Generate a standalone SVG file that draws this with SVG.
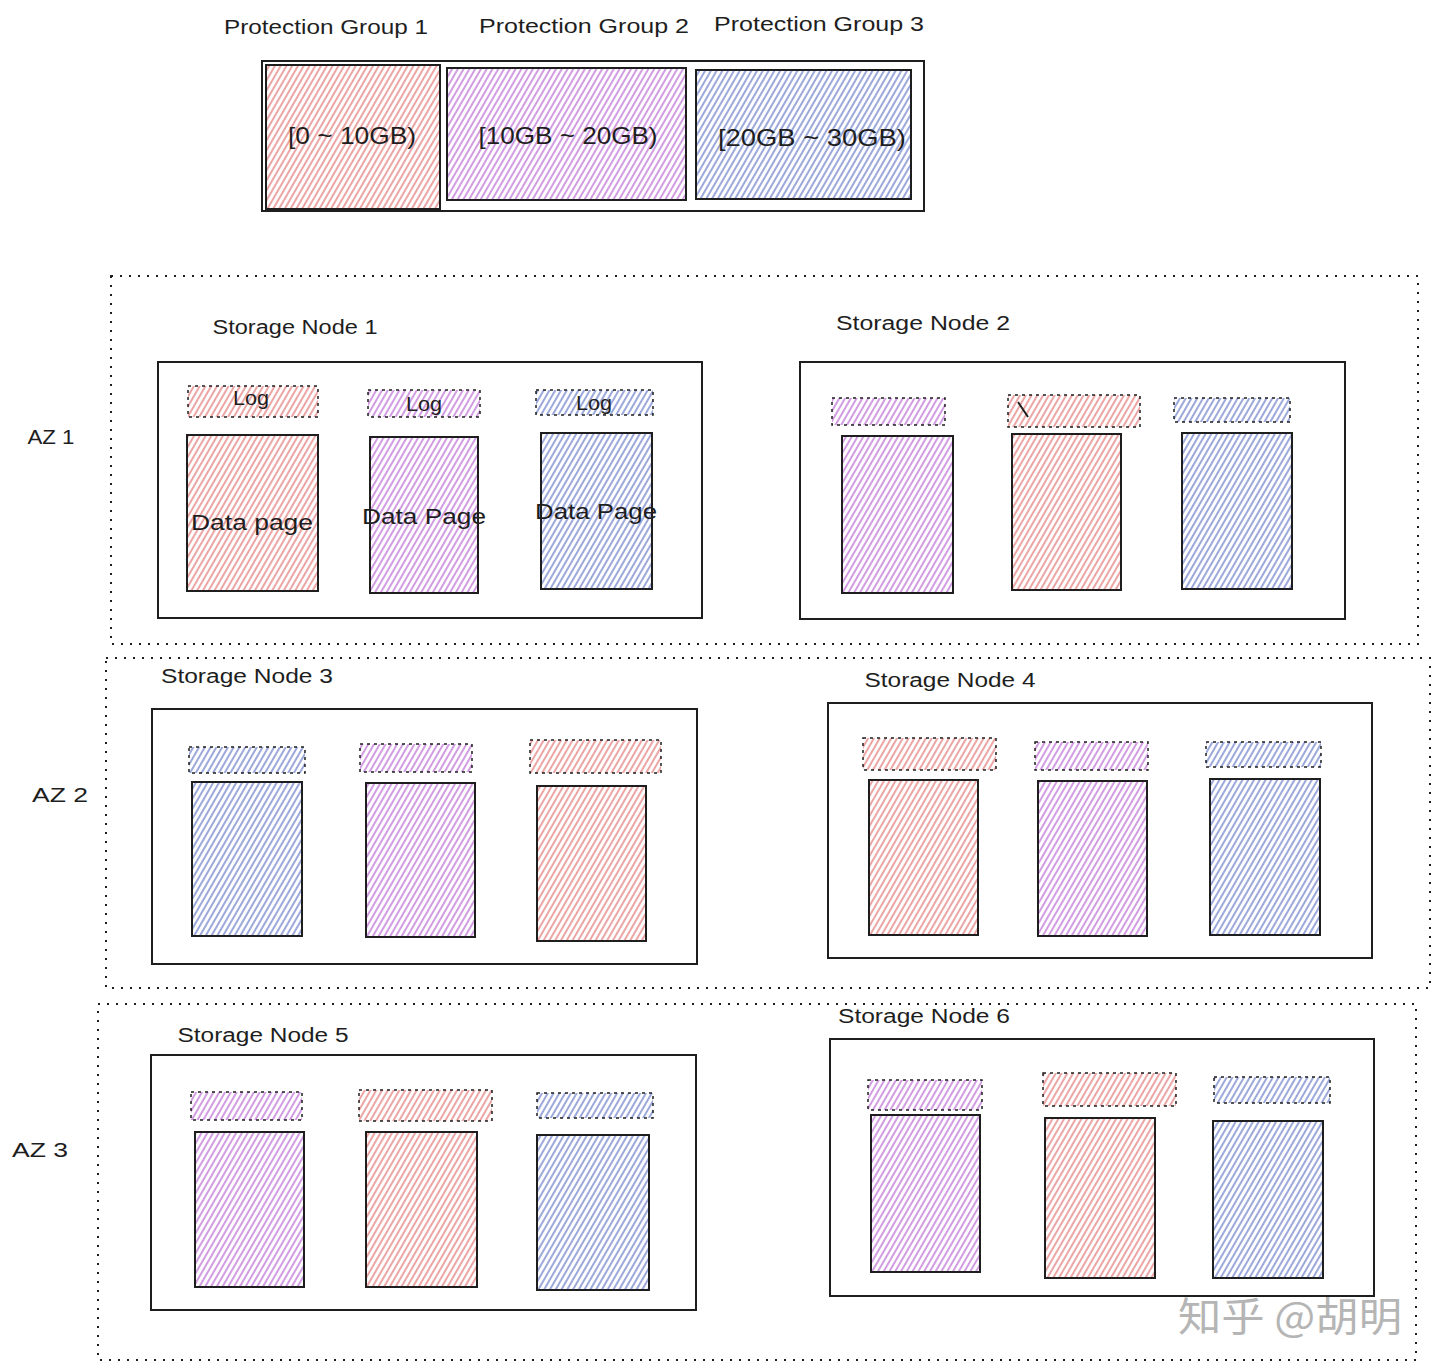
<svg xmlns="http://www.w3.org/2000/svg" width="1440" height="1372" viewBox="0 0 1440 1372">
<style>
  text { font-family: "Liberation Sans", Arial, sans-serif; fill: #1e1e1e; text-anchor: middle; dominant-baseline: central; }
  .lbl { font-size: 20px; }
  .rng { font-size: 24px; }
  .dp { font-size: 22px; }
  .wm { font-family: "Noto Sans CJK SC", "Liberation Sans", sans-serif; font-size: 40px; fill: #b5b5b5; }
  .az { fill: none; stroke: #1e1e1e; stroke-width: 2; stroke-dasharray: 2 7; }
  .box { fill: #ffffff; stroke: #1e1e1e; stroke-width: 2; }
  .dat { stroke: #1e1e1e; stroke-width: 2; }
  .log { stroke: #1e1e1e; stroke-width: 1.5; stroke-dasharray: 3 4; }
  .r { fill: url(#hr); }
  .p { fill: url(#hp); }
  .b { fill: url(#hb); }
</style>
<defs>
  <pattern id="hr" width="5" height="10" patternUnits="userSpaceOnUse" patternTransform="rotate(30)">
    <rect width="5" height="10" fill="#ffffff"/>
    <line x1="1" y1="0" x2="1" y2="10" stroke="#e06a6a" stroke-width="1.2"/>
  </pattern>
  <pattern id="hp" width="5" height="10" patternUnits="userSpaceOnUse" patternTransform="rotate(30)">
    <rect width="5" height="10" fill="#ffffff"/>
    <line x1="1" y1="0" x2="1" y2="10" stroke="#b45bd0" stroke-width="1.2"/>
  </pattern>
  <pattern id="hb" width="5" height="10" patternUnits="userSpaceOnUse" patternTransform="rotate(30)">
    <rect width="5" height="10" fill="#ffffff"/>
    <line x1="1" y1="0" x2="1" y2="10" stroke="#5a6fc4" stroke-width="1.2"/>
  </pattern>
</defs>
<rect width="1440" height="1372" fill="#ffffff"/>

<g id="protection-groups">
  <text class="lbl" x="326" y="27" textLength="204" lengthAdjust="spacingAndGlyphs">Protection Group 1</text>
  <text class="lbl" x="584" y="26" textLength="210" lengthAdjust="spacingAndGlyphs">Protection Group 2</text>
  <text class="lbl" x="819" y="24" textLength="210" lengthAdjust="spacingAndGlyphs">Protection Group 3</text>
  <rect class="box" x="262" y="61" width="662" height="150"/>
  <g id="pg1"><rect class="dat r" x="266" y="65" width="174" height="144"/>
    <text class="rng" x="352" y="135" textLength="128" lengthAdjust="spacingAndGlyphs">[0 ~ 10GB)</text></g>
  <g id="pg2"><rect class="dat p" x="447" y="68" width="239" height="132"/>
    <text class="rng" x="568" y="135" textLength="179" lengthAdjust="spacingAndGlyphs">[10GB ~ 20GB)</text></g>
  <g id="pg3"><rect class="dat b" x="696" y="70" width="215" height="129"/>
    <text class="rng" x="812" y="137" textLength="188" lengthAdjust="spacingAndGlyphs">[20GB ~ 30GB)</text></g>
</g>

<g id="az1">
  <rect class="az" x="111" y="276" width="1307" height="368"/>
  <text class="lbl" x="51" y="437" textLength="47" lengthAdjust="spacingAndGlyphs">AZ 1</text>
</g>
<g id="az2">
  <rect class="az" x="106" y="658" width="1324" height="330"/>
  <text class="lbl" x="60" y="795" textLength="56" lengthAdjust="spacingAndGlyphs">AZ 2</text>
</g>
<g id="az3">
  <rect class="az" x="98" y="1004" width="1318" height="356"/>
  <text class="lbl" x="40" y="1150" textLength="56" lengthAdjust="spacingAndGlyphs">AZ 3</text>
</g>

<g id="storage-node-1">
  <text class="lbl" x="295" y="327" textLength="165" lengthAdjust="spacingAndGlyphs">Storage Node 1</text>
  <rect class="box" x="158" y="362" width="544" height="256"/>
  <rect class="log r" x="188" y="386" width="130" height="31"/>
  <rect class="log p" x="368" y="390" width="112" height="27"/>
  <rect class="log b" x="536" y="390" width="117" height="25"/>
  <rect class="dat r" x="187" y="435" width="131" height="156"/>
  <rect class="dat p" x="370" y="437" width="108" height="156"/>
  <rect class="dat b" x="541" y="433" width="111" height="156"/>
  <text class="lbl" x="251" y="398" textLength="36" lengthAdjust="spacingAndGlyphs">Log</text>
  <text class="lbl" x="424" y="404" textLength="36" lengthAdjust="spacingAndGlyphs">Log</text>
  <text class="lbl" x="594" y="403" textLength="36" lengthAdjust="spacingAndGlyphs">Log</text>
  <text class="dp" x="252" y="522" textLength="122" lengthAdjust="spacingAndGlyphs">Data page</text>
  <text class="dp" x="424" y="516" textLength="124" lengthAdjust="spacingAndGlyphs">Data Page</text>
  <text class="dp" x="596" y="511" textLength="122" lengthAdjust="spacingAndGlyphs">Data Page</text>
</g>

<g id="storage-node-2">
  <text class="lbl" x="923" y="323" textLength="174" lengthAdjust="spacingAndGlyphs">Storage Node 2</text>
  <rect class="box" x="800" y="362" width="545" height="257"/>
  <rect class="log p" x="832" y="398" width="113" height="27"/>
  <rect class="log r" x="1008" y="395" width="132" height="32"/>
  <rect class="log b" x="1174" y="398" width="116" height="24"/>
  <line x1="1018" y1="402" x2="1028" y2="417" stroke="#1e1e1e" stroke-width="2"/>
  <rect class="dat p" x="842" y="436" width="111" height="157"/>
  <rect class="dat r" x="1012" y="434" width="109" height="156"/>
  <rect class="dat b" x="1182" y="433" width="110" height="156"/>
</g>

<g id="storage-node-3">
  <text class="lbl" x="247" y="676" textLength="172" lengthAdjust="spacingAndGlyphs">Storage Node 3</text>
  <rect class="box" x="152" y="709" width="545" height="255"/>
  <rect class="log b" x="189" y="747" width="116" height="26"/>
  <rect class="log p" x="360" y="744" width="112" height="28"/>
  <rect class="log r" x="530" y="740" width="131" height="33"/>
  <rect class="dat b" x="192" y="782" width="110" height="154"/>
  <rect class="dat p" x="366" y="783" width="109" height="154"/>
  <rect class="dat r" x="537" y="786" width="109" height="155"/>
</g>

<g id="storage-node-4">
  <text class="lbl" x="950" y="680" textLength="171" lengthAdjust="spacingAndGlyphs">Storage Node 4</text>
  <rect class="box" x="828" y="703" width="544" height="255"/>
  <rect class="log r" x="863" y="738" width="133" height="32"/>
  <rect class="log p" x="1035" y="742" width="113" height="28"/>
  <rect class="log b" x="1206" y="742" width="115" height="25"/>
  <rect class="dat r" x="869" y="780" width="109" height="155"/>
  <rect class="dat p" x="1038" y="781" width="109" height="155"/>
  <rect class="dat b" x="1210" y="779" width="110" height="156"/>
</g>

<g id="storage-node-5">
  <text class="lbl" x="263" y="1035" textLength="171" lengthAdjust="spacingAndGlyphs">Storage Node 5</text>
  <rect class="box" x="151" y="1055" width="545" height="255"/>
  <rect class="log p" x="191" y="1092" width="111" height="28"/>
  <rect class="log r" x="359" y="1090" width="133" height="31"/>
  <rect class="log b" x="537" y="1093" width="116" height="25"/>
  <rect class="dat p" x="195" y="1132" width="109" height="155"/>
  <rect class="dat r" x="366" y="1132" width="111" height="155"/>
  <rect class="dat b" x="537" y="1135" width="112" height="155"/>
</g>

<g id="storage-node-6">
  <text class="lbl" x="924" y="1016" textLength="172" lengthAdjust="spacingAndGlyphs">Storage Node 6</text>
  <rect class="box" x="830" y="1039" width="544" height="257"/>
  <rect class="log p" x="868" y="1080" width="114" height="30"/>
  <rect class="log r" x="1043" y="1073" width="133" height="33"/>
  <rect class="log b" x="1214" y="1077" width="116" height="26"/>
  <rect class="dat p" x="871" y="1115" width="109" height="157"/>
  <rect class="dat r" x="1045" y="1118" width="110" height="160"/>
  <rect class="dat b" x="1213" y="1121" width="110" height="157"/>
</g>

<g id="connectors"></g>

<g id="watermark">
  <text class="wm" x="1290" y="1314" textLength="224" lengthAdjust="spacingAndGlyphs">知乎 @胡明</text>
</g>
</svg>
